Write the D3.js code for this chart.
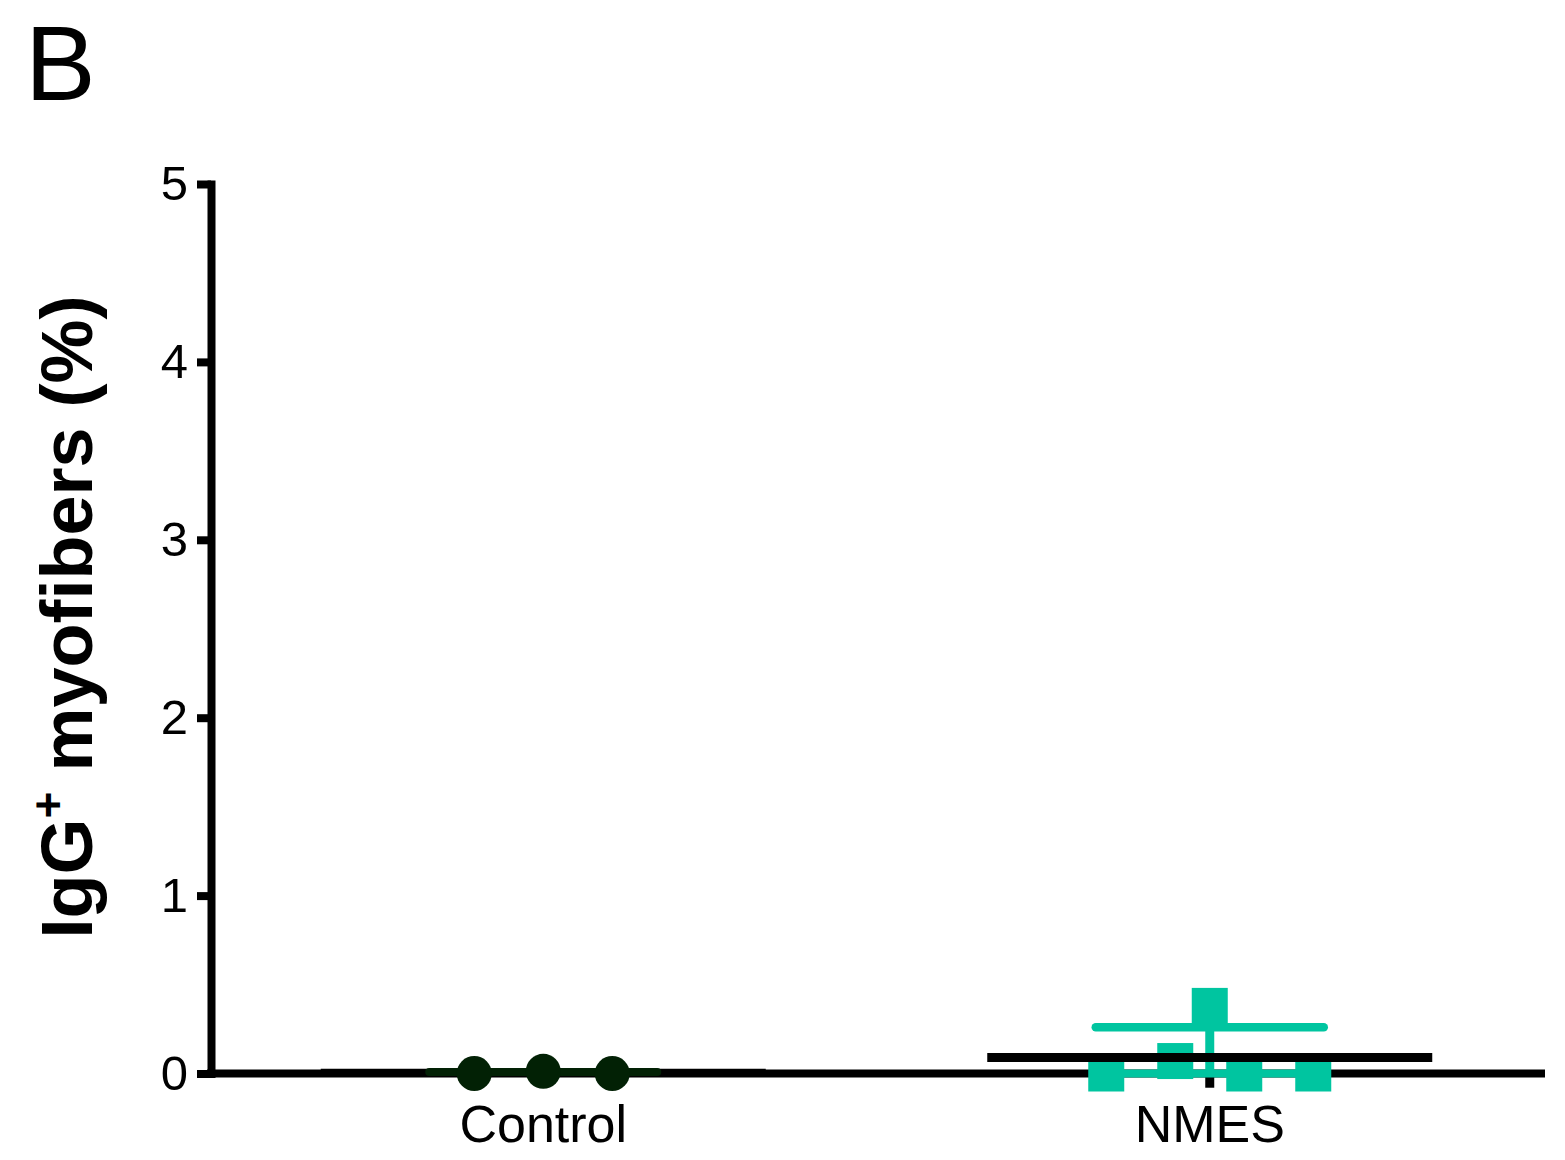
<!DOCTYPE html>
<html>
<head>
<meta charset="utf-8">
<script src="https://cdn.jsdelivr.net/npm/d3@7"></script>
<style>
  html, body { margin: 0; padding: 0; background: #fff; }
  svg { display: block; font-family: "Liberation Sans", Arial, sans-serif; }
</style>
</head>
<body>
<svg id="chart" width="1565" height="1160"></svg>
<script>
// ---------- data ----------
const categories = ["Control", "NMES"];
const controlValues = [0, 0.012, 0];
const nmesValues = [0, 0.07, 0.38, 0, 0];
const controlMean = 0.004;
const controlSEM = 0.004;
const nmesMean = 0.09;
const nmesSEM = 0.17;
const yTicks = [0, 1, 2, 3, 4, 5];
const yLabelMain = "IgG";
const yLabelSup = "+";
const yLabelRest = " myofibers (%)";
const panelLetter = "B";

// ---------- layout ----------
const svg = d3.select("#chart");
const colControl = "#022105";
const colNMES = "#00C5A0";
const axisW = 8;

const x = d3.scaleBand().domain(categories).range([210, 1543]).padding(0);
const y = d3.scaleLinear().domain([0, 5]).range([1073.5, 184]);
const cx = c => x(c) + x.bandwidth() / 2;

// horizontal slot layout of scatter points (column arrangement)
const slotStep = 34.5;
const controlSlots = [-2, 0, 2];
const nmesSlots = [-3, -1, 0, 1, 3];

// panel letter
svg.append("text").attr("x", 25).attr("y", 100)
  .attr("font-size", 106).attr("fill", "#000").text(panelLetter);

// y axis label
const yl = svg.append("text")
  .attr("transform", "translate(92,617) rotate(-90)")
  .attr("text-anchor", "middle")
  .attr("font-size", 72).attr("font-weight", "bold").attr("fill", "#000");
yl.append("tspan").text(yLabelMain);
yl.append("tspan").attr("font-size", 46).attr("dy", -28).text(yLabelSup);
yl.append("tspan").attr("dy", 28).text(yLabelRest);

// y axis
const yAxis = svg.append("g").attr("transform", "translate(211,0)")
  .call(d3.axisLeft(y).tickValues(yTicks).tickFormat(d3.format("d"))
    .tickSize(14).tickSizeOuter(0).tickPadding(9));
yAxis.select(".domain").attr("stroke", "#000").attr("stroke-width", axisW).attr("stroke-linecap", "square");
yAxis.selectAll(".tick line").attr("stroke", "#000").attr("stroke-width", axisW);
yAxis.selectAll(".tick text").attr("font-size", 49).attr("fill", "#000")
  .attr("font-family", "Liberation Sans, Arial, sans-serif");

// x axis
const xAxis = svg.append("g").attr("transform", `translate(0,${y(0)})`)
  .call(d3.axisBottom(x).tickSize(0).tickPadding(32));
xAxis.select(".domain").remove();
xAxis.selectAll(".tick text").attr("font-size", 52).attr("fill", "#000")
  .attr("font-family", "Liberation Sans, Arial, sans-serif");
svg.append("line").attr("x1", 207).attr("x2", 1545).attr("y1", y(0)).attr("y2", y(0))
  .attr("stroke", "#000").attr("stroke-width", axisW);

// ---------- Control group ----------
const meanHalf = 222.5;
const errHalf = 114;
svg.append("line").attr("x1", cx("Control") - meanHalf).attr("x2", cx("Control") + meanHalf)
  .attr("y1", y(controlMean)).attr("y2", y(controlMean))
  .attr("stroke", "#000").attr("stroke-width", 8);
svg.append("line").attr("x1", cx("Control") - errHalf).attr("x2", cx("Control") + errHalf)
  .attr("y1", y(controlMean + controlSEM)).attr("y2", y(controlMean + controlSEM))
  .attr("stroke", colControl).attr("stroke-width", 8).attr("stroke-linecap", "round");
svg.append("g").selectAll("circle").data(controlValues).join("circle")
  .attr("cx", (d, i) => cx("Control") + controlSlots[i] * slotStep)
  .attr("cy", d => y(d))
  .attr("r", 17.5)
  .attr("fill", colControl);

// ---------- NMES group ----------
const nx = cx("NMES");
// lower whisker (below axis, black)
svg.append("line").attr("x1", nx).attr("x2", nx)
  .attr("y1", y(0)).attr("y2", y(nmesMean - nmesSEM))
  .attr("stroke", "#000").attr("stroke-width", 9);
// squares
const sq = 36;
svg.append("g").selectAll("rect").data(nmesValues).join("rect")
  .attr("x", (d, i) => nx + nmesSlots[i] * slotStep - sq / 2)
  .attr("y", d => y(d) - sq / 2)
  .attr("width", sq).attr("height", sq)
  .attr("fill", colNMES);
// error bar (teal)
svg.append("line").attr("x1", nx).attr("x2", nx)
  .attr("y1", y(nmesMean + nmesSEM)).attr("y2", y(0))
  .attr("stroke", colNMES).attr("stroke-width", 9);
svg.append("line").attr("x1", nx - errHalf).attr("x2", nx + errHalf)
  .attr("y1", y(nmesMean + nmesSEM)).attr("y2", y(nmesMean + nmesSEM))
  .attr("stroke", colNMES).attr("stroke-width", 8.5).attr("stroke-linecap", "round");
svg.append("line").attr("x1", nx - errHalf).attr("x2", nx + errHalf)
  .attr("y1", y(0)).attr("y2", y(0))
  .attr("stroke", colNMES).attr("stroke-width", 8);
// mean line (black, on top)
svg.append("line").attr("x1", nx - meanHalf).attr("x2", nx + meanHalf)
  .attr("y1", y(nmesMean)).attr("y2", y(nmesMean))
  .attr("stroke", "#000").attr("stroke-width", 9);
</script>
</body>
</html>
